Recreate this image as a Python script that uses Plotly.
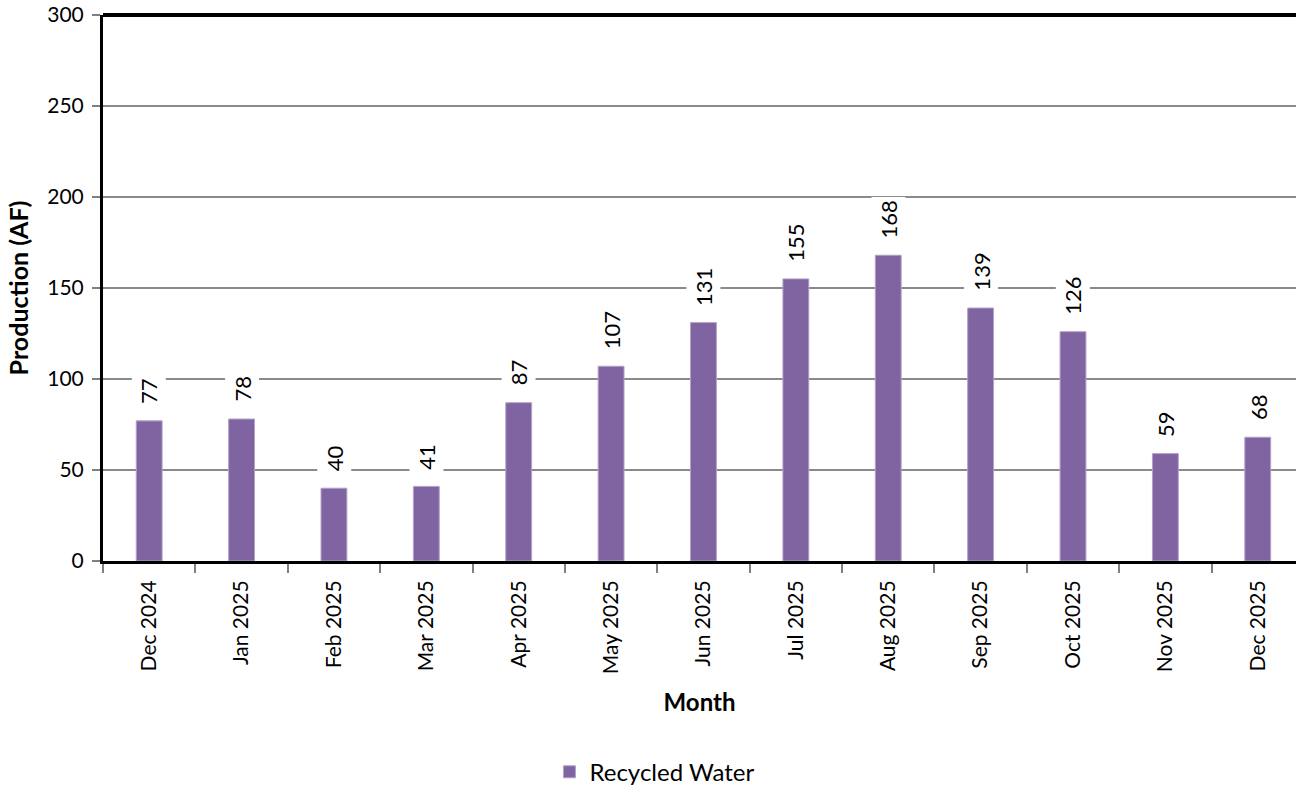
import plotly.graph_objects as go

months = ["Dec 2024", "Jan 2025", "Feb 2025", "Mar 2025", "Apr 2025", "May 2025",
          "Jun 2025", "Jul 2025", "Aug 2025", "Sep 2025", "Oct 2025", "Nov 2025", "Dec 2025"]
recycled = [77, 78, 40, 41, 87, 107, 131, 155, 168, 139, 126, 59, 68]
y_ticks = [0, 50, 100, 150, 200, 250, 300]

FONT = "Lato, 'DejaVu Sans', sans-serif"
PURPLE = "#8064A2"

fig = go.Figure()
fig.add_trace(go.Bar(
    x=months, y=recycled, name="Recycled Water",
    marker=dict(color=PURPLE, line=dict(color="#b3a2c7", width=1)),
    width=0.28,
))

annotations = []
for m, v in zip(months, recycled):
    annotations.append(dict(
        x=m, y=v, xref="x", yref="y", text=str(v), showarrow=False,
        textangle=-90, yanchor="bottom", xanchor="center", yshift=13,
        bgcolor="white", borderpad=3,
        font=dict(family=FONT, size=22, color="black"),
    ))

fig.update_layout(
    width=1296, height=792,
    margin=dict(l=103, r=0, t=15, b=231),
    plot_bgcolor="white", paper_bgcolor="white",
    font=dict(family=FONT, size=21, color="black"),
    showlegend=True,
    legend=dict(orientation="h", xref="container", x=0.505, xanchor="center",
                yref="container", y=0.025, yanchor="middle",
                font=dict(family=FONT, size=24, color="black"),
                itemwidth=30),
    annotations=annotations,
    shapes=[dict(type="line", xref="paper", yref="paper", x0=0, x1=1, y0=1, y1=1,
                 line=dict(color="black", width=4))],
    xaxis=dict(
        range=[-0.5, 12.414],
        tickangle=-90, ticks="outside", ticklen=9, tickcolor="#7f7f7f", tickwidth=2,
        tickson="boundaries",
        showline=True, linecolor="black", linewidth=3,
        showgrid=False,
        ticklabelstandoff=8,
        tickfont=dict(family=FONT, size=21, color="black"),
        title=dict(text="<b>Month</b>", font=dict(family=FONT, size=24, color="black"), standoff=22),
    ),
    yaxis=dict(
        range=[0, 300], tickvals=y_ticks,
        ticks="outside", ticklen=8, tickcolor="#7f7f7f", tickwidth=2,
        showline=True, linecolor="black", linewidth=3,
        showgrid=True, gridcolor="#8a8a8a", gridwidth=1.5,
        zeroline=False,
        ticklabelstandoff=4,
        ticklabeloverflow="allow",
        tickfont=dict(family=FONT, size=21, color="black"),
        title=dict(text="<b>Production (AF)</b>", font=dict(family=FONT, size=25, color="black"), standoff=12),
    ),
)

fig.write_html("out.html", config={"displayModeBar": False},
               post_script="document.body.style.margin='0';")
